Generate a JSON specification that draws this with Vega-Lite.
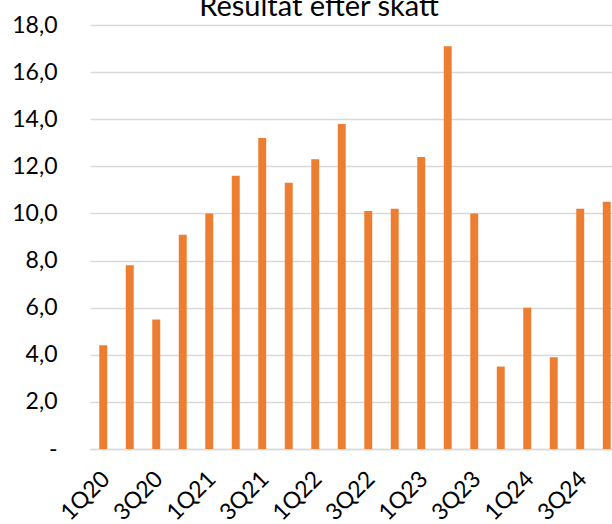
{
  "$schema": "https://vega.github.io/schema/vega-lite/v6.json",
  "autosize": {"type": "none"},
  "padding": {"left": 90, "top": 25, "right": 0, "bottom": 77},
  "width": 530,
  "height": 424,
  "background": "white",
  "title": {
    "text": "Resultat efter skatt",
    "font": "Lato",
    "fontSize": 29,
    "fontWeight": "normal",
    "color": "#000000",
    "anchor": "middle",
    "frame": "group",
    "baseline": "alphabetic",
    "offset": -31,
    "dx": -36
  },
  "data": {
    "values": [
      {"q": "1Q20", "v": 4.4},
      {"q": "2Q20", "v": 7.8},
      {"q": "3Q20", "v": 5.5},
      {"q": "4Q20", "v": 9.1},
      {"q": "1Q21", "v": 10.0},
      {"q": "2Q21", "v": 11.6},
      {"q": "3Q21", "v": 13.2},
      {"q": "4Q21", "v": 11.3},
      {"q": "1Q22", "v": 12.3},
      {"q": "2Q22", "v": 13.8},
      {"q": "3Q22", "v": 10.1},
      {"q": "4Q22", "v": 10.2},
      {"q": "1Q23", "v": 12.4},
      {"q": "2Q23", "v": 17.1},
      {"q": "3Q23", "v": 10.0},
      {"q": "4Q23", "v": 3.5},
      {"q": "1Q24", "v": 6.0},
      {"q": "2Q24", "v": 3.9},
      {"q": "3Q24", "v": 10.2},
      {"q": "4Q24", "v": 10.5}
    ]
  },
  "config": {"view": {"stroke": null}},
  "mark": {"type": "bar", "color": "#ED7D31"},
  "encoding": {
    "x": {
      "field": "q",
      "type": "nominal",
      "sort": null,
      "scale": {"paddingInner": 0.7, "paddingOuter": 0.35},
      "axis": {
        "title": null,
        "values": ["1Q20", "3Q20", "1Q21", "3Q21", "1Q22", "3Q22", "1Q23", "3Q23", "1Q24", "3Q24"],
        "labelAngle": -45,
        "labelAlign": "right",
        "labelBaseline": "middle",
        "labelFont": "Lato",
        "labelFontSize": 23,
        "labelColor": "#000000",
        "labelPadding": 26,
        "labelOffset": 3,
        "ticks": false,
        "domain": true,
        "domainColor": "#D9D9D9",
        "domainWidth": 1.5
      }
    },
    "y": {
      "field": "v",
      "type": "quantitative",
      "scale": {"domain": [0, 18], "nice": false},
      "axis": {
        "title": null,
        "values": [0, 2, 4, 6, 8, 10, 12, 14, 16, 18],
        "labelExpr": "datum.value == 0 ? '-        ' : replace(format(datum.value, '.1f'), '.', ',')",
        "labelFont": "Lato",
        "labelFontSize": 23,
        "labelColor": "#000000",
        "labelPadding": 33,
        "ticks": false,
        "domain": false,
        "grid": true,
        "gridColor": "#D9D9D9",
        "gridWidth": 1.5
      }
    }
  }
}
